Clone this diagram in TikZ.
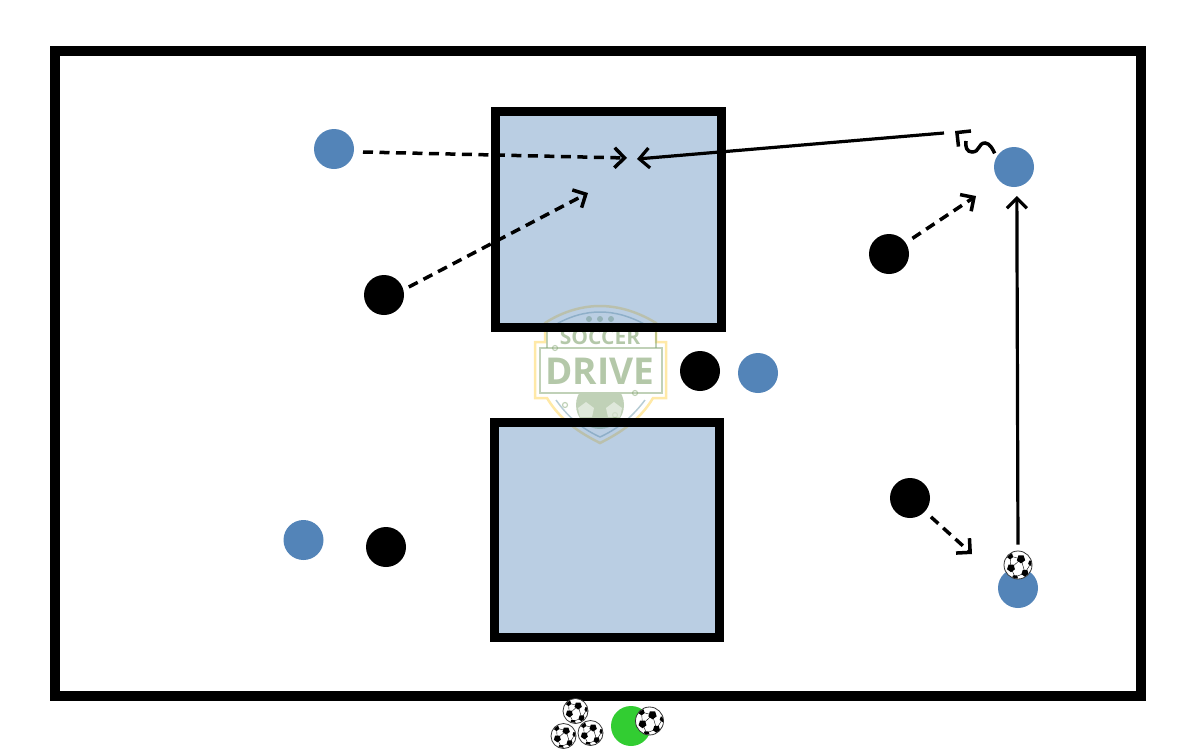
\documentclass[tikz,border=0pt]{standalone}
\usepackage{fontspec}
\usepackage{tikz}
\usetikzlibrary{positioning,arrows.meta}
\setsansfont{Open Sans}
\definecolor{playerblue}{HTML}{5384B8}
\definecolor{kitgreen}{HTML}{32CD32}
\definecolor{logogreen}{HTML}{82A36F}
\definecolor{logoyellow}{HTML}{FFD34F}
\definecolor{logoteal}{HTML}{6F9AAA}

\begin{document}
\begin{tikzpicture}[
    x=1pt, y=-1pt,
    bluep/.style={circle, fill=playerblue, minimum size=40pt, inner sep=0pt},
    blackp/.style={circle, fill=black, minimum size=40pt, inner sep=0pt},
    coachp/.style={circle, fill=kitgreen, minimum size=40pt, inner sep=0pt},
    ball/.style={circle, draw=black!80, line width=0.8pt, fill=white, minimum size=28pt, inner sep=0pt},
    ballmark/.pic={
        \clip (0,0) circle (13.5);
        \draw[black, line width=0.4pt] (3,-6) -- (-7,3) -- (-3,12) (3,-6) -- (7,8) -- (-3,12) (-7,3) -- (-8,-9) (3,-6) -- (-8,-9) (7,8) -- (13,-2);
        \foreach \bx/\by/\bs in {3/-6/4.4, -7/3/4.2, 7/8/3.8, -8/-9/3.4, -3/13/3.4, 13/-2/3}
            \fill[black, shift={(\bx,\by)}]
                (90:\bs) -- (162:\bs) -- (234:\bs) -- (306:\bs) -- (18:\bs) -- cycle;
    },
    grid/.style={draw=black, line width=9pt, fill=playerblue, fill opacity=0.4, draw opacity=1},
    pass/.style={-{Straight Barb[length=10pt, width=20pt, angle'=90]}, line width=3.2pt, black},
    run/.style={pass, line width=3.5pt, dash pattern=on 10pt off 6.5pt},
    logotxt/.style={text=logogreen, text opacity=0.6, inner sep=0pt}
]
\useasboundingbox (0,0) rectangle (1200,750);

% logo under everything
\begin{scope}[opacity=0.5]
\draw[logoyellow, line width=2.5pt] (545,323) .. controls (565,310) and (585,306) .. (600,306)
    .. controls (615,306) and (635,310) .. (656,323) -- (656,342) -- (666,342) -- (666,398) -- (653,398)
    .. controls (640,420) and (620,433) .. (600,443) .. controls (580,433) and (560,420) .. (547,398)
    -- (535,398) -- (535,342) -- (545,342) -- cycle;
\draw[logoteal, line width=1.5pt] (553,326) .. controls (570,316) and (585,312) .. (600,312)
    .. controls (615,312) and (630,316) .. (648,326);
\draw[logoteal, line width=1.5pt] (556,400) .. controls (570,420) and (585,430) .. (600,437)
    .. controls (615,430) and (630,420) .. (645,400);
\draw[logogreen, line width=1.5pt] (540,348) rectangle (662,393);
\draw[logogreen, line width=1.5pt] (547,332) -- (547,348) (656,332) -- (656,348);
\draw[logogreen, line width=1.2pt] (555,348) circle (2.5pt) (635,393) circle (2.5pt) (565,405) circle (2.5pt) (615,415) circle (2.5pt);
\begin{scope}
\clip (570,394) rectangle (630,430);
\fill[logogreen] (600,405) circle (24pt);
\fill[white] (586,402) -- (594,408) -- (592,417) -- (580,417) -- (578,408) -- cycle;
\fill[white] (614,402) -- (606,408) -- (608,417) -- (620,417) -- (622,408) -- cycle;
\end{scope}
\foreach \sx in {589,600,611}
    \fill[logogreen] (\sx,319) circle (3pt);
\end{scope}
\node[logotxt, font=\sffamily\bfseries\fontsize{21}{21}\selectfont] (soccer) at (600,337) {SOCCER};
\node[logotxt, font=\sffamily\bfseries\fontsize{37}{37}\selectfont] (drive) at (600,371) {DRIVE};

% field and grids
\draw[black, line width=10pt] (55,51) rectangle (1141,696);
\draw[grid] (495.5,111) rectangle (721,327);
\draw[grid] (494,422) rectangle (719.5,637);

% players
\node[bluep] (blueTL) at (334,149) {};
\node[blackp] (blackTL) at (384,295) {};
\node[bluep] (blueTR) at (1014,167) {};
\node[blackp] (blackTR) at (889,254) {};
\node[blackp] (blackC) at (700,371) {};
\node[bluep] (blueC) at (758,373) {};
\node[bluep] (blueBL) at (303.5,540) {};
\node[blackp] (blackBL) at (386,547) {};
\node[blackp] (blackBR) at (910,498) {};
\node[bluep] (blueBR) at (1018,588) {};
\node[coachp] (coach) at (631,726) {};

% balls
\node[ball] (ballBR) at (1018,565) {};
\node[ball] (ballC) at (649.5,721) {};
\node[ball, minimum size=25pt] (ballA) at (575.5,711) {};
\node[ball, minimum size=25pt] (ballB) at (563.5,736) {};
\node[ball, minimum size=25pt] (ballD) at (590.5,733) {};
\foreach \b in {ballBR,ballC}
    \pic at (\b) {ballmark};
\foreach \b in {ballA,ballB,ballD}
    \pic[scale=0.88] at (\b) {ballmark};

% end points
\coordinate (goalA) at (627,158);
\coordinate (goalB) at (588,193);
\coordinate (goalC) at (637,159);
\coordinate (openTR) at (976,196);
\coordinate (openBR) at (972,554);
\coordinate (dribA) at (966,141);
\coordinate (tipA) at (957.5,133);
\coordinate (tipB) at (955,131);
\coordinate (shotA) at (944,133);

\draw[run, shorten <=9pt] (blueTL.-8) -- (goalA);
\draw[run, shorten <=6pt] (blackTL.15) -- (goalB);
\draw[run, shorten <=8pt] (blackTR) -- (openTR);
\draw[run, shorten <=8pt] (blackBR) -- (openBR);
\draw[pass, shorten <=6pt, shorten >=9pt] (ballBR.north) -- (blueTR.-82);
\draw[pass] (shotA) -- (goalC);
\draw[line width=3.5pt, black, shorten <=4pt] (blueTR.150) .. controls (993,150) and (990,143) .. (985,143)
    .. controls (978,143) and (980,152) .. (972,152) .. controls (967,152) and (965,147) .. (dribA);
\draw[pass, line width=3.5pt] (tipA) -- (tipB);

\end{tikzpicture}
\end{document}
